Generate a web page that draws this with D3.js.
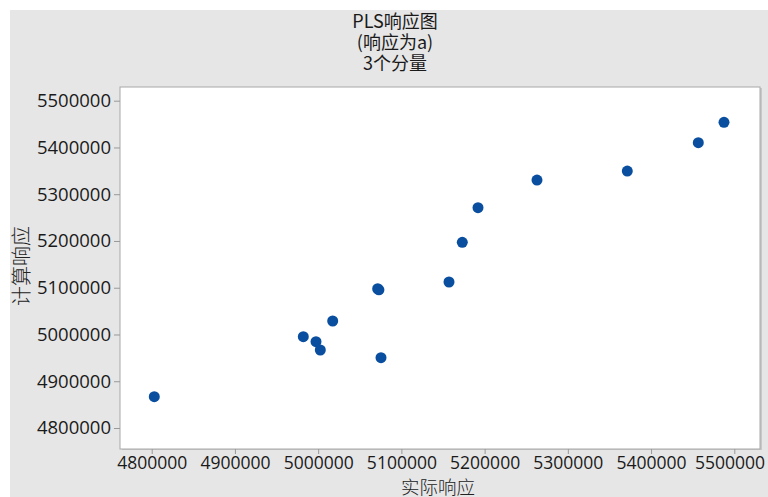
<!DOCTYPE html>
<html><head><meta charset="utf-8">
<script src="https://cdn.jsdelivr.net/npm/d3@7"></script>
<style>body{margin:0;background:#fff;}svg{display:block;}</style>
</head><body>
<svg id="chart" width="768" height="497"></svg>
<script>
const titleLines = ["PLS响应图", "(响应为a)", "3个分量"];
const xLabel = "实际响应";
const yLabel = "计算响应";
const xTicks = [4800000, 4900000, 5000000, 5100000, 5200000, 5300000, 5400000, 5500000];
const yTicks = [4800000, 4900000, 5000000, 5100000, 5200000, 5300000, 5400000, 5500000];
const actual = [4803100, 4982150, 4997400, 5002570, 5017470, 5071500, 5073000, 5075500, 5157200, 5173180, 5192050, 5262930, 5371430, 5456740, 5487620];
const calculated = [4866900, 4995250, 4984560, 4966810, 5028830, 5097800, 5095600, 4950340, 5112230, 5197130, 5271130, 5330370, 5349620, 5410140, 5453760];

const svg = d3.select("#chart");
const W = 768, H = 497;
const plot = {left: 120, top: 87, right: 760, bottom: 449};

svg.append("rect").attr("x", 10).attr("y", 10).attr("width", W - 10).attr("height", H - 10).attr("fill", "#e6e6e6");

const x = d3.scaleLinear().domain([4800000, 5500000]).range([151.7, 734.3]);
const y = d3.scaleLinear().domain([4800000, 5500000]).range([428, 100.7]);

// plot area
svg.append("rect").attr("x", plot.left + 2).attr("y", plot.top + 1).attr("width", plot.right - plot.left).attr("height", plot.bottom - plot.top).attr("fill", "#c8c8c8");
svg.append("rect").attr("x", plot.left).attr("y", plot.top).attr("width", plot.right - plot.left).attr("height", plot.bottom - plot.top)
  .attr("fill", "#ffffff").attr("stroke", "#a8a8a8").attr("stroke-width", 1);

const font = "'Open Sans', 'Noto Sans', sans-serif";

// x axis
const xAxis = d3.axisBottom(x).tickValues(xTicks).tickFormat(d3.format("d")).tickSizeOuter(0).tickSizeInner(5).tickPadding(3);
const gx = svg.append("g").attr("transform", `translate(0,${plot.bottom})`).call(xAxis);
gx.select(".domain").remove();
gx.selectAll(".tick line").attr("stroke", "#999");
gx.selectAll(".tick text").attr("font-family", font).attr("font-size", 17.5).attr("fill", "#1a1a1a");
// keep the last label inside the picture, as in the reference
gx.selectAll(".tick text").each(function () {
  const t = d3.select(this);
  const tx = +d3.select(this.parentNode).attr("transform").match(/translate\(([-\d.]+)/)[1];
  const w = this.getComputedTextLength();
  const over = tx + w / 2 - 765;
  if (over > 0) t.attr("dx", -over);
});

// y axis
const yAxis = d3.axisLeft(y).tickValues(yTicks).tickFormat(d3.format("d")).tickSizeOuter(0).tickSizeInner(6).tickPadding(3);
const gy = svg.append("g").attr("transform", `translate(${plot.left},0)`).call(yAxis);
gy.select(".domain").remove();
gy.selectAll(".tick line").attr("stroke", "#999");
gy.selectAll(".tick text").attr("font-family", font).attr("font-size", 18.5).attr("fill", "#1a1a1a");

// points
const pts = actual.map((a, i) => ({a, c: calculated[i]}));
svg.append("g").selectAll("path").data(pts).join("path")
  .attr("d", d3.symbol().type(d3.symbolCircle).size(95))
  .attr("transform", d => `translate(${x(d.a)},${y(d.c)})`)
  .attr("fill", "#0a4f9f");

// titles
const cjk = "'Noto Sans CJK SC', sans-serif";
const titleFont = "'Liberation Sans Narrow', 'Noto Sans CJK SC', sans-serif";
svg.append("g").selectAll("text").data(titleLines).join("text")
  .attr("x", 395).attr("y", (d, i) => 28 + i * 21)
  .attr("text-anchor", "middle").attr("font-family", titleFont).attr("font-size", 18)
  .attr("fill", "#1a1a1a").text(d => d);

svg.append("text").attr("x", 438).attr("y", 493.5).attr("text-anchor", "middle")
  .attr("font-family", cjk).attr("font-size", 18.5).attr("font-weight", 300).attr("fill", "#222").text(xLabel);

svg.append("text").attr("transform", `translate(29,266) rotate(-90)`).attr("text-anchor", "middle")
  .attr("font-family", cjk).attr("font-size", 20).attr("font-weight", 300).attr("fill", "#222").text(yLabel);
</script>
</body></html>
